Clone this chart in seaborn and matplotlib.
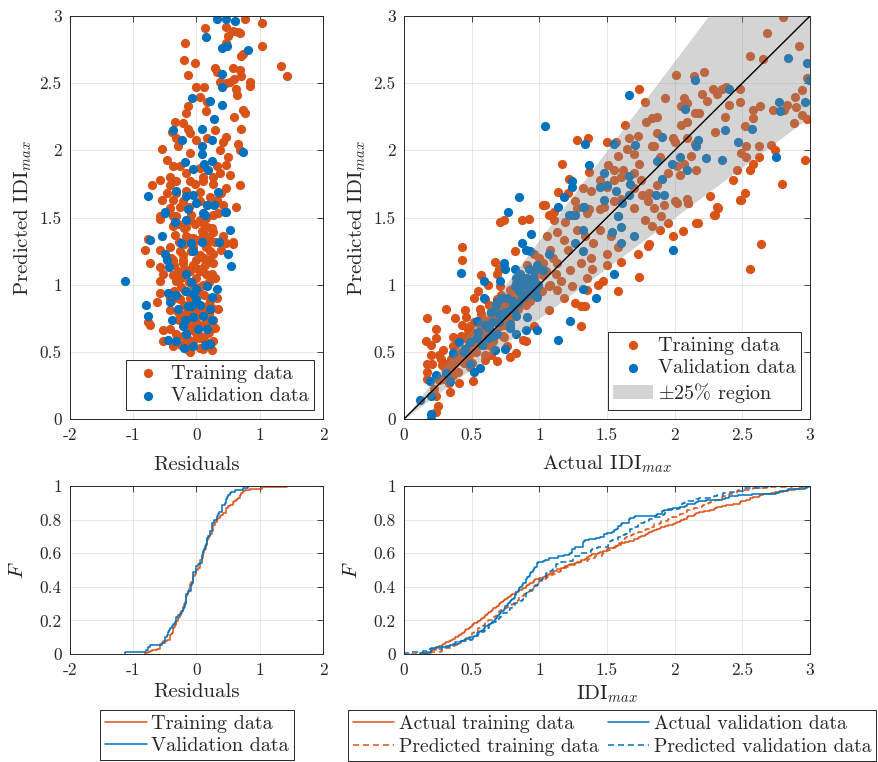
import numpy as np
import matplotlib
matplotlib.use("Agg")
import matplotlib.pyplot as plt
import seaborn as sns
from matplotlib.ticker import FuncFormatter

# ---------------- data ----------------
# left scatter: (residual, predicted IDImax)
resid_train = [
    (0.76, 2.98), (1.03, 2.95), (0.47, 2.92), (0.58, 2.89), (0.68, 2.87), (0.13, 2.91), (0.5, 2.85),
    (0.66, 2.88), (-0.18, 2.8), (1.04, 2.78), (0.47, 2.8), (0.74, 2.72), (0.71, 2.7), (-0.2, 2.67),
    (-0.03, 2.65), (1.34, 2.63), (1.43, 2.55), (-0.14, 2.56), (0.29, 2.61), (0.32, 2.58), (0.58, 2.61),
    (0.68, 2.6), (0.71, 2.55), (0.53, 2.51), (0.6, 2.53), (0.84, 2.51), (0.85, 2.48), (0.37, 2.51),
    (0.47, 2.5), (0.63, 2.46), (0.64, 2.41), (0.0, 2.47), (0.12, 2.47), (0.05, 2.4), (0.16, 2.36),
    (-0.13, 2.33), (0.74, 2.3), (0.76, 2.28), (-0.16, 2.28), (0.15, 2.29), (0.59, 2.25), (-0.34, 2.21),
    (-0.21, 2.2), (-0.13, 2.16), (0.71, 2.16), (-0.39, 2.14), (-0.32, 2.09), (-0.11, 2.13), (0.0, 2.08),
    (0.16, 2.09), (0.29, 2.15), (0.47, 2.1), (0.42, 2.06), (-0.29, 2.03), (-0.55, 2.01), (-0.11, 1.98),
    (0.37, 2.0), (0.66, 2.05), (0.68, 2.0), (-0.47, 1.93), (0.5, 1.95), (-0.37, 1.88), (-0.26, 1.88),
    (0.05, 1.87), (0.32, 1.88), (0.47, 1.89), (-0.16, 1.83), (-0.42, 1.8), (0.11, 1.8), (0.26, 1.8),
    (0.37, 1.83), (0.53, 1.82), (-0.58, 1.78), (-0.71, 1.74), (-0.42, 1.74), (-0.32, 1.77), (-0.11, 1.77),
    (-0.03, 1.75), (0.11, 1.77), (0.26, 1.75), (0.68, 1.74), (0.47, 1.72), (-0.47, 1.68), (-0.32, 1.68),
    (-0.16, 1.7), (0.05, 1.69), (0.39, 1.68), (-0.55, 1.63), (-0.37, 1.63), (0.32, 1.63), (0.63, 1.58),
    (0.42, 1.59), (-0.42, 1.57), (-0.26, 1.58), (0.16, 1.59), (-0.58, 1.51), (-0.37, 1.51), (-0.08, 1.52),
    (0.34, 1.53),
    (-0.58, 1.49), (-0.32, 1.51), (0.05, 1.48), (0.26, 1.52), (-0.37, 1.44), (-0.16, 1.43), (0.16, 1.43),
    (-0.76, 1.34), (-0.34, 1.37), (-0.16, 1.36), (0.11, 1.38), (0.26, 1.39), (0.42, 1.36), (0.58, 1.32),
    (-0.82, 1.26), (-0.58, 1.26), (-0.42, 1.28), (-0.26, 1.25), (-0.05, 1.28), (0.16, 1.3), (0.26, 1.23),
    (0.39, 1.26), (-0.74, 1.16), (-0.58, 1.13), (-0.37, 1.18), (-0.21, 1.16), (0.0, 1.18), (0.13, 1.15),
    (0.26, 1.16), (-0.53, 1.08), (-0.37, 1.07), (-0.16, 1.08), (0.05, 1.1), (0.24, 1.08), (-0.58, 1.03),
    (-0.32, 1.03), (-0.58, 0.94), (-0.63, 0.87), (-0.42, 0.9), (0.32, 0.9), (0.34, 0.82), (-0.42, 0.81),
    (-0.26, 0.76), (-0.76, 0.72), (-0.74, 0.7), (-0.42, 0.67), (-0.53, 0.66), (0.26, 0.74), (-0.32, 0.63),
    (0.18, 0.64), (-0.53, 0.58), (-0.37, 0.54), (-0.16, 0.56), (0.05, 0.53), (0.24, 0.51), (-0.11, 0.5),
    (0.26, 0.58), (0.05, 0.6), (-0.05, 0.66), (0.16, 0.71), (-0.16, 0.71), (-0.05, 0.81), (0.16, 0.84),
    (-0.26, 0.89), (0.58, 1.3), (0.47, 1.31),
    (-0.25, 0.55), (-0.15, 0.6), (-0.05, 0.58), (0.05, 0.62), (0.15, 0.57), (0.2, 0.65), (-0.2, 0.7),
    (-0.1, 0.75), (0.0, 0.72), (0.1, 0.7), (0.2, 0.78), (-0.3, 0.8), (-0.2, 0.85), (-0.1, 0.9),
    (0.02, 0.95), (0.12, 0.92), (0.22, 0.88), (-0.25, 0.98), (-0.12, 1.02), (0.0, 1.05), (0.1, 1.0),
    (0.2, 1.02), (-0.3, 1.1), (-0.18, 1.12), (-0.05, 1.15), (0.08, 1.12), (0.18, 1.18), (-0.22, 1.22),
    (-0.08, 1.25), (0.05, 1.22), (0.15, 1.28), (-0.28, 1.32), (-0.12, 1.35), (0.02, 1.33), (0.12, 1.38),
    (-0.2, 1.42), (-0.02, 1.45), (0.1, 1.46), (0.25, 1.42), (-0.35, 0.95), (0.3, 1.05), (-0.4, 1.2),
    (-0.22, 0.62), (-0.12, 0.66), (0.0, 0.64), (0.1, 0.6), (0.18, 0.72), (-0.28, 0.74), (-0.15, 0.8),
    (-0.05, 0.85), (0.08, 0.82), (0.25, 0.83), (-0.3, 0.9), (-0.18, 0.95), (-0.06, 1.0), (0.06, 0.98),
    (0.15, 1.08), (-0.25, 1.05), (-0.1, 1.1), (0.02, 1.12), (0.12, 1.2), (0.22, 1.25), (-0.35, 1.15),
    (-0.2, 1.3), (-0.05, 1.35), (0.08, 1.4), (0.2, 1.35), (-0.3, 1.45), (-0.1, 1.48), (0.15, 1.5),
    (-0.15, 0.52), (0.1, 0.52), (-0.08, 0.7), (0.04, 0.78), (0.3, 0.68), (-0.4, 0.88), (-0.22, 1.18),
    (0.3, 1.32), (-0.12, 1.58), (0.05, 1.62), (0.22, 1.65), (-0.22, 1.62),
]
resid_valid = [
    (0.33, 2.98), (0.46, 2.98), (0.61, 2.96), (0.15, 2.84), (0.41, 2.76), (0.48, 2.78), (0.81, 2.75),
    (0.41, 2.57), (0.41, 2.47), (-0.07, 2.39), (0.21, 2.37), (0.41, 2.34), (0.28, 2.23), (-0.37, 2.15),
    (0.09, 2.16), (-0.23, 2.08), (0.24, 2.08), (0.09, 2.03), (0.73, 1.99), (0.08, 1.97), (-0.18, 1.91),
    (0.12, 1.9), (0.25, 1.92), (-0.06, 1.86), (0.18, 1.85), (-0.33, 1.7), (0.34, 1.69), (-0.76, 1.66),
    (-0.16, 1.66), (-0.05, 1.67), (-0.01, 1.61), (-0.13, 1.56), (0.16, 1.59), (0.28, 1.59), (-0.5, 1.54),
    (0.46, 1.54), (0.11, 1.53),
    (-0.5, 1.53), (0.13, 1.52), (0.45, 1.54), (-0.34, 1.47), (-0.16, 1.48), (0.53, 1.41), (-0.73, 1.33),
    (-0.54, 1.36), (-0.25, 1.31), (-0.09, 1.31), (0.08, 1.32), (0.36, 1.32), (-0.5, 1.23), (-0.47, 1.18),
    (-0.43, 1.13), (-0.06, 1.25), (0.5, 1.23), (0.55, 1.14), (-1.13, 1.03), (-0.16, 1.08), (-0.08, 1.02),
    (0.0, 0.97), (-0.45, 0.94), (-0.32, 0.92), (-0.16, 0.95), (-0.05, 0.94), (0.16, 0.99), (0.32, 0.97),
    (0.24, 0.91), (-0.8, 0.85), (-0.42, 0.87), (-0.29, 0.82), (-0.13, 0.84), (0.05, 0.85), (0.21, 0.82),
    (-0.76, 0.77), (-0.39, 0.74), (-0.18, 0.74), (-0.05, 0.76), (0.11, 0.77), (0.24, 0.74), (-0.21, 0.69),
    (-0.16, 0.63), (0.03, 0.67), (0.16, 0.67), (-0.45, 0.59), (-0.32, 0.58), (-0.2, 0.53), (-0.05, 0.54),
    (0.13, 0.55), (0.21, 0.56), (-0.08, 0.84), (0.0, 0.89),
]

# right scatter: (actual IDImax, predicted IDImax)
idi_train = [
    (2.8, 2.99), (2.68, 2.87), (2.92, 2.78), (2.56, 2.7), (2.65, 2.68), (2.98, 2.54), (2.01, 2.56),
    (2.14, 2.55), (2.22, 2.58), (1.74, 2.46), (1.78, 2.36), (1.93, 2.39), (2.07, 2.39), (2.09, 2.35),
    (2.05, 2.33), (2.2, 2.42), (2.24, 2.37), (2.28, 2.46), (2.31, 2.42), (2.35, 2.46), (2.38, 2.47),
    (2.48, 2.46), (2.48, 2.36), (2.4, 2.34), (2.15, 2.28), (2.18, 2.28), (2.37, 2.25), (2.58, 2.3),
    (2.63, 2.33), (2.58, 2.24), (2.73, 2.3), (2.83, 2.34), (2.81, 2.3), (2.89, 2.4), (2.94, 2.45),
    (2.9, 2.32), (2.94, 2.26), (2.98, 2.23), (2.88, 2.2), (1.79, 2.21), (1.83, 2.24), (1.87, 2.25),
    (2.05, 2.19), (2.09, 2.21), (1.63, 2.19), (1.87, 2.13), (2.3, 2.14), (2.52, 2.18), (1.28, 2.08),
    (1.36, 2.09), (1.5, 2.06), (1.57, 2.06), (1.66, 2.09), (1.73, 2.11), (1.83, 2.03), (1.99, 2.09),
    (2.0, 2.06), (2.09, 2.09), (2.15, 2.05), (2.53, 2.03), (2.62, 2.03), (2.71, 2.04), (2.74, 2.0),
    (2.53, 1.95), (2.49, 1.98), (2.62, 1.95), (2.58, 1.9), (2.56, 1.85), (2.46, 1.85), (2.96, 1.93),
    (2.79, 1.75), (1.58, 1.96), (1.65, 2.01), (1.7, 1.97), (1.74, 1.9), (1.17, 1.9), (1.37, 1.84),
    (1.51, 1.89), (1.55, 1.85), (1.6, 1.8), (1.7, 1.83), (1.75, 1.78), (1.85, 2.03), (1.89, 1.95),
    (1.95, 1.83), (2.02, 1.88), (2.04, 1.82), (2.07, 1.9), (2.12, 1.96), (2.16, 1.85), (2.43, 1.78),
    (2.52, 1.68), (2.49, 1.63), (2.31, 1.58), (2.26, 1.66), (2.29, 1.52), (2.09, 1.64), (2.0, 1.62),
    (2.1, 1.61), (1.87, 1.74), (1.81, 1.68), (1.8, 1.62), (1.85, 1.57), (1.76, 1.67), (1.62, 1.85),
    (1.55, 1.78), (1.5, 1.73), (1.45, 1.78), (1.32, 1.72), (1.38, 1.7), (1.22, 1.79), (1.14, 1.69),
    (1.21, 1.68), (1.04, 1.59), (1.11, 1.54), (1.48, 1.58), (1.55, 1.62), (1.6, 1.64), (1.7, 1.72),
    (1.26, 1.62), (1.37, 1.56),
    (1.03, 1.59), (0.71, 1.47), (0.74, 1.48), (0.87, 1.48), (0.92, 1.49), (1.07, 1.52), (1.11, 1.48),
    (1.19, 1.47), (1.28, 1.57), (1.35, 1.53), (1.45, 1.56), (1.7, 1.57), (1.78, 1.48), (1.83, 1.44),
    (1.9, 1.51), (1.95, 1.46), (1.92, 1.59), (2.02, 1.61), (2.1, 1.61), (2.16, 1.46), (2.17, 1.46),
    (2.3, 1.52), (2.32, 1.57), (2.48, 1.63), (1.89, 1.41), (2.06, 1.4), (1.99, 1.36), (1.81, 1.3),
    (1.8, 1.29), (1.73, 1.23), (1.6, 1.17), (1.74, 1.06), (2.56, 1.12), (2.64, 1.3), (1.58, 0.95),
    (0.43, 1.28), (0.43, 1.18), (0.57, 1.07), (0.67, 1.17), (0.69, 1.08), (0.82, 1.25), (0.91, 1.15),
    (0.96, 1.23), (1.06, 1.36), (1.08, 1.26), (1.13, 1.39), (1.18, 1.33), (1.21, 1.26), (1.28, 1.41),
    (1.34, 1.36), (1.4, 1.31), (1.45, 1.41), (1.53, 1.36), (1.58, 1.28), (1.5, 1.23), (1.38, 1.2),
    (1.31, 1.16), (1.39, 1.12), (1.35, 1.05), (1.23, 1.11), (1.24, 0.99), (1.16, 1.03), (1.13, 0.96),
    (1.18, 0.9), (1.07, 0.99), (1.03, 1.07), (0.96, 1.06), (0.91, 0.96), (0.83, 1.01), (0.78, 0.96),
    (0.78, 0.89), (0.83, 0.89), (0.71, 0.99), (0.69, 0.89), (0.66, 0.81), (0.6, 0.89), (0.52, 0.9),
    (0.56, 0.82), (0.45, 0.81), (0.43, 0.7), (0.31, 0.82), (0.17, 0.75), (0.24, 0.67), (0.36, 0.61),
    (0.46, 0.76), (0.49, 0.69), (0.46, 0.61), (0.59, 0.74), (0.61, 0.66), (0.71, 0.69), (0.74, 0.61),
    (0.66, 0.59), (0.76, 0.54), (0.83, 0.49), (0.78, 0.46), (0.88, 0.59), (0.9, 0.58), (0.96, 0.69),
    (1.07, 0.81), (1.26, 0.86), (1.31, 0.84), (1.34, 0.84), (1.31, 0.69), (0.64, 0.54), (0.69, 0.43),
    (0.6, 0.44), (0.54, 0.56), (0.36, 0.54), (0.29, 0.51), (0.2, 0.48), (0.26, 0.48), (0.17, 0.41),
    (0.21, 0.41), (0.31, 0.41), (0.41, 0.46), (0.49, 0.39), (0.51, 0.28), (0.41, 0.27), (0.34, 0.2),
    (0.26, 0.29), (0.17, 0.35), (0.17, 0.3), (0.24, 0.17), (0.25, 0.1), (0.24, 0.05), (1.43, 1.0),
    (1.47, 1.03), (1.35, 0.96), (1.5, 1.15), (1.13, 1.16), (1.03, 1.16),
    (0.35, 0.45), (0.38, 0.55), (0.42, 0.62), (0.45, 0.52), (0.47, 0.66), (0.5, 0.58), (0.52, 0.72),
    (0.55, 0.63), (0.57, 0.78), (0.6, 0.55), (0.62, 0.7), (0.63, 0.85), (0.65, 0.75), (0.68, 0.65),
    (0.7, 0.8), (0.72, 0.92), (0.75, 0.7), (0.77, 0.85), (0.8, 0.95), (0.82, 0.78), (0.85, 0.9),
    (0.87, 1.05), (0.9, 0.85), (0.92, 1.0), (0.95, 0.92), (0.97, 1.1), (0.99, 0.98), (1.0, 1.2),
    (0.4, 0.35), (0.3, 0.38), (0.28, 0.3), (0.33, 0.27), (0.22, 0.22), (0.27, 0.45), (0.44, 0.42),
    (0.48, 0.48), (0.53, 0.5), (0.58, 0.66), (0.66, 0.58), (0.73, 0.62), (0.79, 0.75), (0.84, 0.82),
    (0.88, 0.95), (0.93, 0.88), (0.96, 1.02), (1.02, 0.95), (1.05, 1.1), (1.08, 1.0), (1.1, 1.2),
    (1.12, 1.08), (0.2, 0.55), (0.24, 0.6), (0.16, 0.58), (0.38, 0.75), (0.55, 0.95), (0.62, 1.0),
    (0.7, 1.12), (0.64, 0.48), (0.5, 0.42), (0.36, 0.33),
    (0.3, 0.3), (0.35, 0.38), (0.38, 0.42), (0.42, 0.5), (0.45, 0.45), (0.48, 0.55), (0.5, 0.5),
    (0.53, 0.6), (0.55, 0.55), (0.58, 0.62), (0.6, 0.6), (0.62, 0.68), (0.65, 0.65), (0.67, 0.72),
    (0.7, 0.7), (0.72, 0.76), (0.75, 0.75), (0.77, 0.8), (0.8, 0.82), (0.82, 0.86), (0.85, 0.85),
    (0.87, 0.92), (0.9, 0.9), (0.92, 0.95), (0.95, 0.97), (0.97, 1.02), (0.5, 0.65), (0.56, 0.7),
    (0.64, 0.78), (0.73, 0.85), (0.45, 0.6), (0.4, 0.48), (0.33, 0.35), (0.28, 0.4), (0.6, 0.48),
]
idi_valid = [
    (2.84, 2.69), (2.98, 2.65), (2.99, 2.52), (2.15, 2.52), (2.4, 2.46), (1.66, 2.41), (2.77, 2.36),
    (2.78, 2.29), (2.96, 2.36), (2.08, 2.31), (1.04, 2.18), (2.37, 2.15), (2.57, 2.16), (1.91, 2.1),
    (2.17, 2.08), (2.16, 2.03), (1.34, 2.05), (1.55, 2.05), (1.71, 2.04), (2.47, 2.06), (2.75, 1.95),
    (2.04, 1.95), (2.23, 1.94), (2.35, 1.93), (1.87, 1.92), (1.98, 1.9), (1.37, 1.89), (2.09, 1.85),
    (1.48, 1.83), (1.66, 1.81), (1.91, 1.79), (1.24, 1.77), (1.24, 1.73), (1.45, 1.73), (1.5, 1.74),
    (1.57, 1.7), (1.67, 1.75), (1.18, 1.65), (1.66, 1.67), (1.86, 1.67), (1.92, 1.67), (1.48, 1.63),
    (0.85, 1.65), (1.33, 1.58), (1.61, 1.61), (1.14, 1.58), (0.77, 1.54), (1.24, 1.52), (1.58, 1.51),
    (0.94, 1.38), (0.87, 1.31), (0.9, 1.26), (0.93, 1.25), (1.07, 1.23), (1.26, 1.31), (1.32, 1.25),
    (1.32, 1.41), (1.22, 1.52), (1.26, 1.52), (1.32, 1.58), (1.54, 1.39), (1.6, 1.43), (1.58, 1.51),
    (1.6, 1.31), (1.7, 1.36), (1.99, 1.26), (1.55, 1.08), (0.42, 1.09), (0.74, 1.16), (0.75, 1.12),
    (0.82, 1.12), (0.71, 1.03), (0.59, 1.03), (0.86, 1.08), (0.91, 1.05), (0.96, 1.1), (1.03, 1.11),
    (0.82, 0.99), (0.88, 0.99), (0.95, 1.0), (0.98, 0.91), (0.59, 0.9), (0.69, 0.87), (0.76, 0.9),
    (0.64, 0.8), (0.81, 0.81), (0.83, 0.77), (0.91, 0.76), (0.54, 0.73), (0.78, 0.71), (0.9, 0.66),
    (0.98, 0.66), (0.83, 0.63), (0.69, 0.63), (0.41, 0.57), (0.49, 0.57), (0.54, 0.6), (0.67, 0.51),
    (0.75, 0.52), (0.36, 0.49), (0.44, 0.5), (0.49, 0.41), (0.56, 0.38), (0.52, 0.35), (1.23, 0.73),
    (1.32, 0.97), (1.42, 0.9), (1.14, 0.59), (0.24, 0.33), (0.19, 0.28), (0.31, 0.34), (0.34, 0.28),
    (0.2, 0.17), (0.2, 0.04), (0.2, 0.0), (0.12, 0.14),
    (0.55, 0.65), (0.6, 0.7), (0.65, 0.72), (0.7, 0.78), (0.72, 0.9), (0.75, 0.8), (0.8, 0.88),
    (0.85, 0.95), (0.88, 1.02), (0.9, 0.92), (0.95, 1.05), (0.97, 0.95), (0.62, 0.6), (0.68, 0.85),
    (0.78, 0.68), (0.83, 1.05), (0.92, 1.12), (0.98, 1.15),
    (0.58, 0.55), (0.63, 0.68), (0.66, 0.62), (0.7, 0.72), (0.74, 0.78), (0.79, 0.82), (0.84, 0.86),
    (0.87, 0.9), (0.93, 0.98), (0.96, 0.93), (0.99, 1.0), (0.45, 0.52),
]

xticks_res = [-2, -1, 0, 1, 2]
yticks_idi = [0, 0.5, 1, 1.5, 2, 2.5, 3]
yticks_F = [0, 0.2, 0.4, 0.6, 0.8, 1]
band = 0.25

# ---------------- style ----------------
ORANGE = "#D95319"
BLUE = "#0072BD"
GRAYTXT = "#262626"

sns.set_theme(style="white")
plt.rcParams.update({
    "font.family": "cmr10",
    "mathtext.fontset": "cm",
    "axes.unicode_minus": False,
    "axes.formatter.use_mathtext": False,
    "text.color": GRAYTXT,
    "axes.labelcolor": GRAYTXT,
})

rt = np.array(resid_train); rv = np.array(resid_valid)
it = np.array(idi_train); iv = np.array(idi_valid)

W, H = 879, 762
fig = plt.figure(figsize=(W / 100, H / 100), dpi=100)
ax1 = fig.add_axes([70 / W, 1 - 419 / H, 253 / W, 403 / H])
ax2 = fig.add_axes([404 / W, 1 - 419 / H, 406 / W, 403 / H])
ax3 = fig.add_axes([70 / W, 1 - 654 / H, 253 / W, 168 / H])
ax4 = fig.add_axes([404 / W, 1 - 654 / H, 406 / W, 168 / H])

fmt = FuncFormatter(lambda v, p: "%g" % round(v, 6))


def style(ax):
    ax.tick_params(direction="in", top=True, right=True, length=4, width=0.6,
                   colors=GRAYTXT, labelsize=12.5, pad=6)
    for s in ax.spines.values():
        s.set_visible(True)
        s.set_color(GRAYTXT)
        s.set_linewidth(0.7)
    ax.grid(True, color=GRAYTXT, alpha=0.13, lw=0.6)
    ax.set_axisbelow(True)
    ax.xaxis.set_major_formatter(fmt)
    ax.yaxis.set_major_formatter(fmt)


for a in (ax1, ax2, ax3, ax4):
    style(a)

LFS = 14.5
MS = 44

# --- top left: residual scatter ---
sns.scatterplot(x=rt[:, 0], y=rt[:, 1], ax=ax1, color=ORANGE, s=MS, linewidth=0,
                label="Training data", zorder=2)
sns.scatterplot(x=rv[:, 0], y=rv[:, 1], ax=ax1, color=BLUE, s=MS, linewidth=0,
                label="Validation data", zorder=2)
ax1.set_xlim(-2, 2); ax1.set_ylim(0, 3)
ax1.set_xticks(xticks_res); ax1.set_yticks(yticks_idi)
ax1.set_xlabel("Residuals", fontsize=15, labelpad=10)
ax1.set_ylabel(r"Predicted IDI$_{max}$", fontsize=15, labelpad=4)
lg = ax1.legend(loc="lower right", fontsize=LFS, frameon=True, fancybox=False, framealpha=1,
                edgecolor=GRAYTXT, borderaxespad=0.45, handletextpad=0.3, handlelength=1.7,
                borderpad=0.25, labelspacing=0.2)
lg.get_frame().set_linewidth(0.7)

# --- top right: actual vs predicted ---
sns.scatterplot(x=it[:, 0], y=it[:, 1], ax=ax2, color=ORANGE, s=MS, linewidth=0,
                label="Training data", zorder=2)
sns.scatterplot(x=iv[:, 0], y=iv[:, 1], ax=ax2, color=BLUE, s=MS, linewidth=0,
                label="Validation data", zorder=2)
ax2.set_xlim(0, 3); ax2.set_ylim(0, 3)
xs = np.array(ax2.get_xlim())
ax2.fill_between(xs, (1 - band) * xs, xs / (1 - band), color=(0.54, 0.54, 0.54), alpha=0.365,
                 lw=0, zorder=3, label=r"$\pm$25% region")
ax2.axline((0, 0), slope=1, color="black", lw=1.0, zorder=4)
ax2.set_xticks(yticks_idi); ax2.set_yticks(yticks_idi)
ax2.set_xlabel(r"Actual IDI$_{max}$", fontsize=15, labelpad=8)
ax2.set_ylabel(r"Predicted IDI$_{max}$", fontsize=15, labelpad=4)
lg = ax2.legend(loc="lower right", fontsize=LFS, frameon=True, fancybox=False, framealpha=1,
                edgecolor=GRAYTXT, borderaxespad=0.45, handletextpad=0.25, handlelength=2.0,
                borderpad=0.25, labelspacing=0.2)
lg.get_frame().set_linewidth(0.7)

# --- bottom left: ECDF of residuals ---
sns.ecdfplot(x=rt[:, 0], ax=ax3, color=ORANGE, lw=1.1, label="Training data")
sns.ecdfplot(x=rv[:, 0], ax=ax3, color=BLUE, lw=1.1, label="Validation data")
ax3.set_xlim(-2, 2); ax3.set_ylim(0, 1)
ax3.set_xticks(xticks_res); ax3.set_yticks(yticks_F)
ax3.set_xlabel("Residuals", fontsize=15, labelpad=4)
ax3.set_ylabel(r"$F$", fontsize=15, labelpad=9)

# --- bottom right: ECDF of IDImax ---
dash = (0, (4, 2.5))
sns.ecdfplot(x=it[:, 0], ax=ax4, color=ORANGE, lw=1.1, label="Actual training data")
sns.ecdfplot(x=it[:, 1], ax=ax4, color=ORANGE, lw=1.1, ls=dash, label="Predicted training data")
sns.ecdfplot(x=iv[:, 0], ax=ax4, color=BLUE, lw=1.1, label="Actual validation data")
sns.ecdfplot(x=iv[:, 1], ax=ax4, color=BLUE, lw=1.1, ls=dash, label="Predicted validation data")
ax4.set_xlim(0, 3); ax4.set_ylim(0, 1)
ax4.set_xticks(yticks_idi); ax4.set_yticks(yticks_F)
ax4.set_xlabel(r"IDI$_{max}$", fontsize=15, labelpad=4)
ax4.set_ylabel(r"$F$", fontsize=15, labelpad=9)

for a in (ax3, ax4):
    if a.get_legend() is not None:
        a.get_legend().remove()

h, l = ax3.get_legend_handles_labels()
lg = fig.legend(h, l, loc="upper center", bbox_to_anchor=(197 / W, 1 - 710 / H), fontsize=LFS,
                frameon=True, fancybox=False, framealpha=1, edgecolor=GRAYTXT, borderaxespad=0,
                handlelength=2.1, handletextpad=0.2, borderpad=0.25, labelspacing=0.2)
lg.get_frame().set_linewidth(0.7)

h, l = ax4.get_legend_handles_labels()
lg = fig.legend(h, l, loc="upper center", bbox_to_anchor=(612 / W, 1 - 710 / H), ncol=2,
                fontsize=14.1, frameon=True, fancybox=False, framealpha=1, edgecolor=GRAYTXT,
                borderaxespad=0, handlelength=2.1, handletextpad=0.25, borderpad=0.25,
                labelspacing=0.25, columnspacing=0.45)
lg.get_frame().set_linewidth(0.7)

fig.savefig("out.png", dpi=100)
